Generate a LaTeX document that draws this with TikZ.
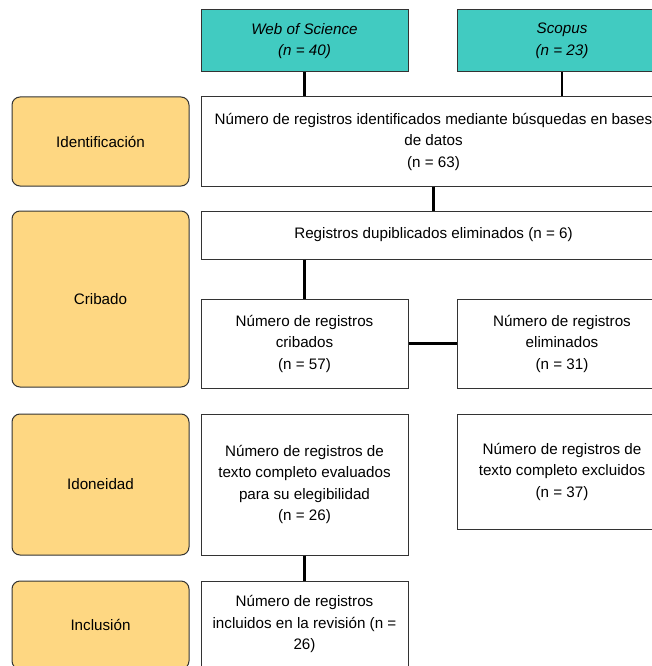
\documentclass[tikz,border=0pt]{standalone}
\usepackage{fontspec}
\setmainfont{Liberation Sans}
\definecolor{teal1}{HTML}{41CBC1}
\definecolor{yel}{HTML}{FED782}
\definecolor{bord}{HTML}{333333}
\begin{document}
\begin{tikzpicture}[x=1pt,y=-1pt,
  box/.style={draw=bord,line width=1pt,fill=white,align=center,inner sep=0pt,
    font=\fontsize{15.2}{21.5}\selectfont},
  src/.style={box,fill=teal1,font=\fontsize{15.2}{21.5}\selectfont\itshape},
  phase/.style={draw=bord,line width=1pt,fill=yel,rounded corners=8pt,align=center,
    minimum width=177pt,font=\fontsize{15.2}{21.5}\selectfont},
  conn/.style={line width=2.6pt,black}]
\useasboundingbox (0,0) rectangle (652,666);
\fill[white] (0,0) rectangle (652,666);
% phases
\node[phase,minimum height=89pt] (pI) at (100.5,141.5) {Identificación};
\node[phase,minimum height=176pt] (pC) at (100.5,299) {Cribado};
\node[phase,minimum height=141pt] (pD) at (100.5,484.5) {Idoneidad};
\node[phase,minimum height=88pt] (pN) at (100.5,625) {Inclusión};
% sources
\node[src,minimum width=207pt,minimum height=62pt] (wos) at (304.5,41) {Web of Science\\(n = 40)};
\node[src,minimum width=210pt,minimum height=62pt] (sco) at (562,41) {Scopus\\(n = 23)};
% main flow
\node[box,minimum width=465pt,minimum height=89pt] (id) at (433.5,141.5)
  {Número de registros identificados mediante búsquedas en bases\\de datos\\(n = 63)};
\node[box,minimum width=465pt,minimum height=48pt] (dup) at (433.5,235)
  {Registros dupiblicados eliminados (n = 6)};
\node[box,minimum width=207pt,minimum height=89pt] (crib) at (304.5,343.5)
  {Número de registros\\cribados\\(n = 57)};
\node[box,minimum width=210pt,minimum height=89pt] (elim) at (562,343.5)
  {Número de registros\\eliminados\\(n = 31)};
\node[box,minimum width=207pt,minimum height=141pt] (eval) at (304.5,484.5)
  {Número de registros de\\texto completo evaluados\\para su elegibilidad\\(n = 26)};
\node[box,minimum width=210pt,minimum height=115pt] (excl) at (562,471.5)
  {Número de registros de\\texto completo excluidos\\(n = 37)};
\node[box,minimum width=207pt,minimum height=86pt] (incl) at (304.5,624)
  {Número de registros\\incluidos en la revisión (n =\\26)};
% connectors
\draw[conn] (wos.south) -- (wos.south|-id.north);
\draw[conn] (sco.south) -- (sco.south|-id.north);
\draw[conn] (id.south) -- (dup.north);
\draw[conn] (crib.north|-dup.south) -- (crib.north);
\draw[conn] (crib.east) -- (elim.west);
\draw[conn] (eval.south) -- (incl.north);
\end{tikzpicture}
\end{document}
